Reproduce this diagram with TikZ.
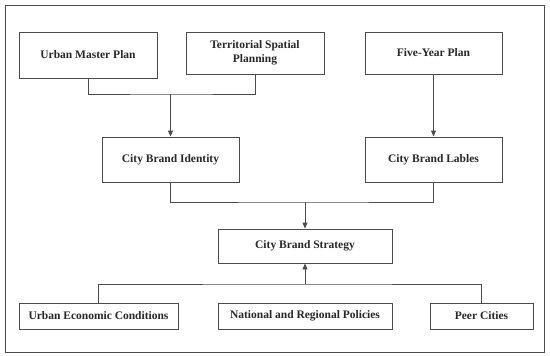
\documentclass[tikz,border=0pt]{standalone}
\usepackage{fontspec}
\setmainfont{Liberation Serif}
\usetikzlibrary{arrows.meta}
\definecolor{ln}{RGB}{75,75,75}
\definecolor{tx}{RGB}{40,40,40}
\tikzset{
  box/.style={draw=ln, line width=0.9pt, fill=white, rectangle, inner sep=0pt,
    font=\fontsize{11.5}{14}\selectfont\bfseries, text=tx, align=center},
  conn/.style={draw=ln, line width=0.9pt},
  arr/.style={conn, -{Triangle[width=5pt,length=6pt]}}
}
\begin{document}
\begin{tikzpicture}[x=1pt,y=-1pt]
\useasboundingbox (0,0) rectangle (550,356);
\draw[draw=ln, line width=1pt] (5,5) rectangle (544,352);
\node[box, minimum width=138pt, minimum height=46pt] (ump) at (88,55) {Urban Master Plan};
\node[box, minimum width=138pt, minimum height=42pt] (tsp) at (255,53) {Territorial Spatial\\Planning};
\node[box, minimum width=137pt, minimum height=42pt] (fyp) at (433.5,53) {Five-Year Plan};
\node[box, minimum width=137pt, minimum height=45pt] (cbi) at (170.5,159.5) {City Brand Identity};
\node[box, minimum width=137pt, minimum height=45pt] (cbl) at (433.5,159.5) {City Brand Lables};
\node[box, minimum width=174pt, minimum height=34pt] (cbs) at (305,246) {City Brand Strategy};
\node[box, minimum width=159pt, minimum height=26pt] (uec) at (98.5,316) {Urban Economic Conditions};
\node[box, minimum width=174pt, minimum height=26pt] (nrp) at (305,316) {National and Regional Policies};
\node[box, minimum width=103pt, minimum height=26pt] (pc) at (481.5,316) {Peer Cities};
\coordinate (j1) at (170.5,94);
\coordinate (j2) at (305,202);
\coordinate (j3) at (305,284);
\draw[conn] (ump.south) |- (j1) -| (tsp.south);
\draw[arr] (j1) -- (cbi.north);
\draw[arr] (fyp.south) -- (cbl.north);
\draw[conn] (cbi.south) |- (j2) -| (cbl.south);
\draw[arr] (j2) -- (cbs.north);
\draw[conn] (uec.north) |- (j3) -| (pc.north);
\draw[arr] (j3) -- (cbs.south);
\end{tikzpicture}
\end{document}
